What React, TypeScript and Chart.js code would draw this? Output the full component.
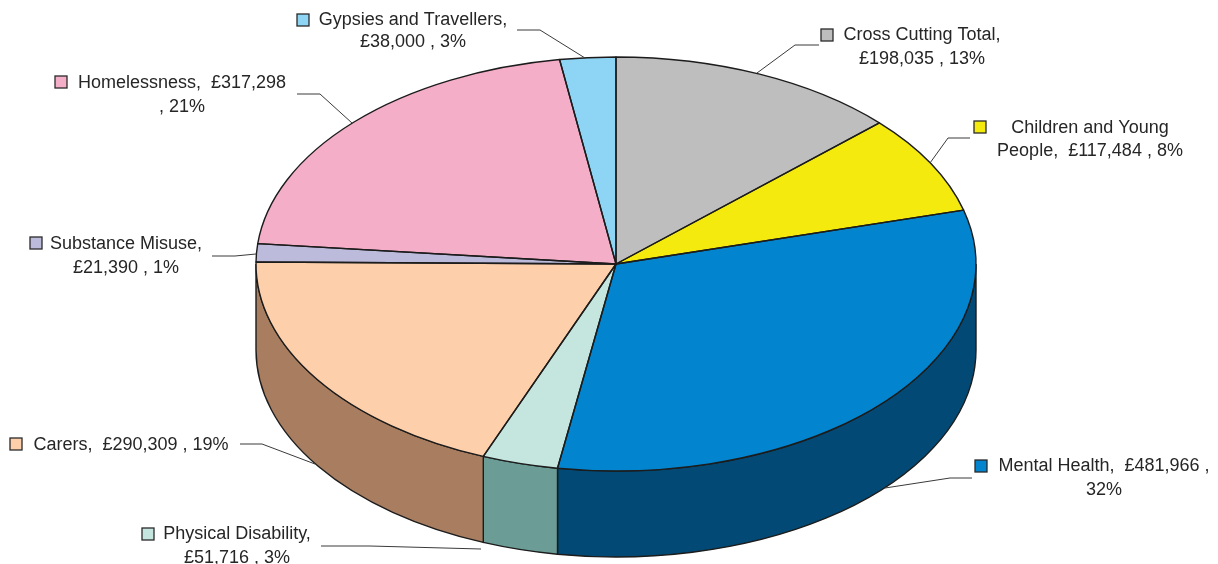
import React, { useEffect, useRef } from "react";
import { Chart, registerables } from "chart.js";

Chart.register(...registerables);

const categories = [
  "Cross Cutting Total",
  "Children and Young People",
  "Mental Health",
  "Physical Disability",
  "Carers",
  "Substance Misuse",
  "Homelessness",
  "Gypsies and Travellers",
];
const funding = [198035, 117484, 481966, 51716, 290309, 21390, 317298, 38000];
const topColours = ["#bebebe", "#f5ea0e", "#0284cf", "#c5e5df", "#fdd0ab", "#bdbbdc", "#f5aec8", "#8ed4f5"];
const wallColours = ["#7f7f7f", "#a39c09", "#024a75", "#6b9c96", "#a87d60", "#7e7c93", "#a37485", "#5e8da3"];

const labelLines = [
  ["Cross Cutting Total,", "£198,035 , 13%"],
  ["Children and Young", "People,  £117,484 , 8%"],
  ["Mental Health,  £481,966 ,", "32%"],
  ["Physical Disability,", "£51,716 , 3%"],
  ["Carers,  £290,309 , 19%"],
  ["Substance Misuse,", "£21,390 , 1%"],
  ["Homelessness,  £317,298", ", 21%"],
  ["Gypsies and Travellers,", "£38,000 , 3%"],
];

// Page layout of each callout: swatch corner, text centre, baseline rows, leader polyline.
const calloutLayout = [
  { swatch: [821, 29], textX: 922, rows: [35, 59], leader: [[819, 45], [795, 45], [757, 73]] },
  { swatch: [974, 121], textX: 1090, rows: [128, 151], leader: [[970, 138], [948, 138], [930, 163]] },
  { swatch: [975, 460], textX: 1104, rows: [466, 490], leader: [[972, 478], [950, 478], [885, 488]] },
  { swatch: [142, 528], textX: 237, rows: [534, 558], leader: [[321, 546], [370, 546], [481, 549]] },
  { swatch: [10, 438], textX: 131, rows: [445], leader: [[240, 444], [262, 444], [315, 464]] },
  { swatch: [30, 237], textX: 126, rows: [244, 268], leader: [[212, 256], [235, 256], [256, 254]] },
  { swatch: [55, 76], textX: 182, rows: [83, 107], leader: [[297, 94], [320, 94], [352, 123]] },
  { swatch: [297, 14], textX: 413, rows: [20, 42], leader: [[517, 30], [540, 30], [585, 58]] },
];

const RADIUS_X = 360;
const RADIUS_Y = 207;
const WALL_DEPTH = 86;
const INK = "#1c1c1c";

// Extrudes the pie: squashes the arcs into an ellipse and adds the side wall and outlines.
const tiltedPie = {
  id: "tiltedPie",
  beforeDatasetsDraw(chart: any) {
    const { ctx } = chart;
    const arcs = chart.getDatasetMeta(0).data;
    const { x: cx, y: cy } = arcs[0];
    ctx.save();
    ctx.lineWidth = 1.4;
    ctx.strokeStyle = INK;
    arcs.forEach((arc: any, i: number) => {
      const a1 = Math.max(arc.startAngle, 0);
      const a2 = Math.min(arc.endAngle, Math.PI);
      if (a2 <= a1) return;
      ctx.beginPath();
      ctx.ellipse(cx, cy, RADIUS_X, RADIUS_Y, 0, a1, a2);
      ctx.ellipse(cx, cy + WALL_DEPTH, RADIUS_X, RADIUS_Y, 0, a2, a1, true);
      ctx.closePath();
      ctx.fillStyle = wallColours[i];
      ctx.fill();
      ctx.stroke();
    });
    ctx.restore();
    ctx.save();
    ctx.translate(cx, cy);
    ctx.scale(1, RADIUS_Y / RADIUS_X);
    ctx.translate(-cx, -cy);
  },
  afterDatasetsDraw(chart: any) {
    const { ctx } = chart;
    ctx.restore();
    const arcs = chart.getDatasetMeta(0).data;
    ctx.save();
    ctx.lineWidth = 1.4;
    ctx.lineJoin = "round";
    ctx.strokeStyle = INK;
    arcs.forEach((arc: any) => {
      ctx.beginPath();
      ctx.moveTo(arc.x, arc.y);
      ctx.ellipse(arc.x, arc.y, RADIUS_X, RADIUS_Y, 0, arc.startAngle, arc.endAngle);
      ctx.closePath();
      ctx.stroke();
    });
    ctx.restore();
  },
};

// Swatch, wrapped text and leader line for every slice.
const callouts = {
  id: "callouts",
  afterDraw(chart: any) {
    const { ctx } = chart;
    ctx.save();
    ctx.textAlign = "center";
    ctx.textBaseline = "middle";
    ctx.font = '18px "Liberation Sans"';
    calloutLayout.forEach((layout, i) => {
      ctx.fillStyle = topColours[i];
      ctx.strokeStyle = "#2a2a2a";
      ctx.lineWidth = 1.3;
      ctx.fillRect(layout.swatch[0], layout.swatch[1], 12, 12);
      ctx.strokeRect(layout.swatch[0], layout.swatch[1], 12, 12);

      ctx.fillStyle = "#262626";
      labelLines[i].forEach((line, row) => ctx.fillText(line, layout.textX, layout.rows[row]));

      ctx.strokeStyle = "#3a3a3a";
      ctx.lineWidth = 1;
      ctx.beginPath();
      layout.leader.forEach(([x, y], p) => (p ? ctx.lineTo(x, y) : ctx.moveTo(x, y)));
      ctx.stroke();
    });
    ctx.restore();
  },
};

export default function App() {
  const canvasRef = useRef<HTMLCanvasElement>(null);

  useEffect(() => {
    const chart = new Chart(canvasRef.current!, {
      type: "pie",
      data: {
        labels: categories,
        datasets: [{ data: funding, backgroundColor: topColours, borderWidth: 0, radius: RADIUS_X }],
      },
      options: {
        responsive: false,
        animation: false,
        layout: { padding: { left: 14, bottom: 36 } },
        plugins: { legend: { display: false }, tooltip: { enabled: false } },
      },
      plugins: [tiltedPie, callouts],
    });
    return () => chart.destroy();
  }, []);

  return (
    <div style={{ position: "absolute", left: 0, top: 0, width: 1218, height: 564, overflow: "hidden", background: "#fff" }}>
      <canvas ref={canvasRef} width={1218} height={564} style={{ display: "block" }} />
    </div>
  );
}
